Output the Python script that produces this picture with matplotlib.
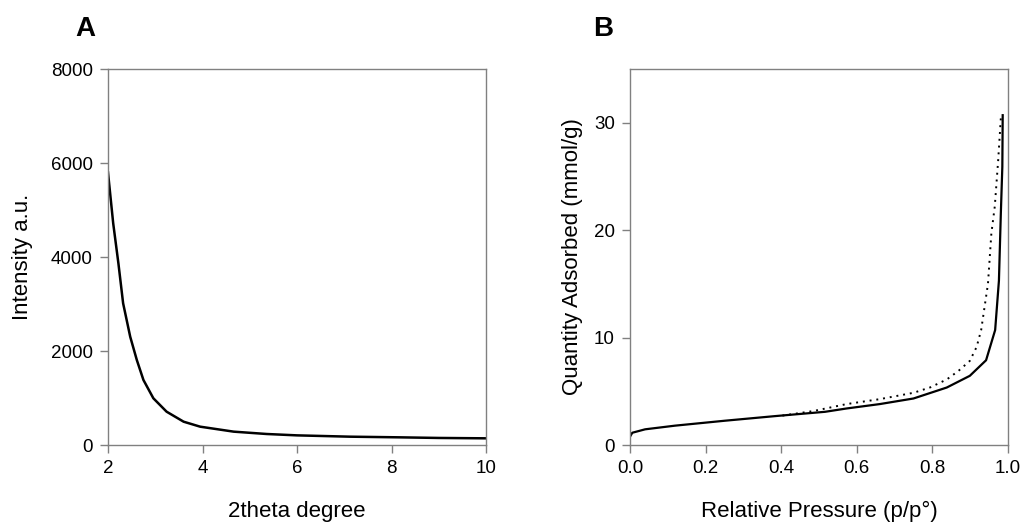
import matplotlib
matplotlib.use("Agg")
import matplotlib.pyplot as plt

plt.rcParams['font.family'] = ['Liberation Sans', 'DejaVu Sans']

# Panel A: XRD pattern
xrd_2theta = [2.0, 2.11, 2.22, 2.32, 2.47, 2.61, 2.75, 2.96, 3.24, 3.6, 3.95,
              4.66, 5.36, 6.0, 7.12, 8.18, 9.0, 10.0]
xrd_intensity = [5800, 4717, 3866, 3015, 2304, 1808, 1383, 994, 709, 496, 390,
                 284, 234, 205, 177, 163, 150, 142]

# Panel B: N2 isotherm
ads_p = [0.0, 0.006, 0.04, 0.119, 0.251, 0.384, 0.516, 0.573, 0.661, 0.75,
         0.838, 0.899, 0.942, 0.966, 0.976, 0.981, 0.985, 0.986]
ads_q = [0.77, 1.14, 1.46, 1.80, 2.26, 2.69, 3.09, 3.40, 3.81, 4.33,
         5.35, 6.44, 7.89, 10.7, 15.3, 21.5, 25.9, 30.7]
des_p = [0.981, 0.974, 0.965, 0.956, 0.947, 0.929, 0.917, 0.899, 0.869, 0.838,
         0.794, 0.75, 0.661, 0.573, 0.485, 0.40]
des_q = [30.4, 26.5, 22.2, 19.7, 15.0, 10.7, 9.13, 7.83, 6.9, 6.10,
         5.36, 4.86, 4.27, 3.81, 3.16, 2.72]

fig = plt.figure(figsize=(10.25, 5.24), dpi=100)
axA = fig.add_axes([108/1025, 79/524, 378/1025, 376/524])
axB = fig.add_axes([630/1025, 79/524, 378/1025, 376/524])

frame_col = '#808080'
for ax in (axA, axB):
    for s in ax.spines.values():
        s.set_color(frame_col)
        s.set_linewidth(1.0)
    ax.tick_params(direction='out', length=6, width=1.0, color=frame_col,
                   labelsize=13.5, labelcolor='black', pad=5)
    ax.tick_params(top=False, right=False)

axA.plot(xrd_2theta, xrd_intensity, color='black', lw=1.8)
axA.set_xlim(2, 10)
axA.set_ylim(0, 8000)
axA.set_xticks([2, 4, 6, 8, 10])
axA.set_yticks([0, 2000, 4000, 6000, 8000])
axA.set_xlabel('2theta degree', fontsize=16, labelpad=17)
axA.set_ylabel('Intensity a.u.', fontsize=16, labelpad=13)

axB.plot(ads_p, ads_q, color='black', lw=1.6)
axB.plot(des_p, des_q, color='black', lw=1.4, linestyle=(0, (1, 2.5)))
axB.set_xlim(0, 1.0)
axB.set_ylim(0, 35)
axB.set_xticks([0.0, 0.2, 0.4, 0.6, 0.8, 1.0])
axB.set_xticklabels(['0.0', '0.2', '0.4', '0.6', '0.8', '1.0'])
axB.set_yticks([0, 10, 20, 30])
axB.set_xlabel('Relative Pressure (p/p°)', fontsize=16, labelpad=17)
axB.set_ylabel('Quantity Adsorbed (mmol/g)', fontsize=16, labelpad=8)

fig.text(75/1025, 1 - 29/524, 'A', fontsize=20, fontweight='bold', va='center', ha='left')
fig.text(593/1025, 1 - 29/524, 'B', fontsize=20, fontweight='bold', va='center', ha='left')

fig.savefig('out.png', dpi=100)
